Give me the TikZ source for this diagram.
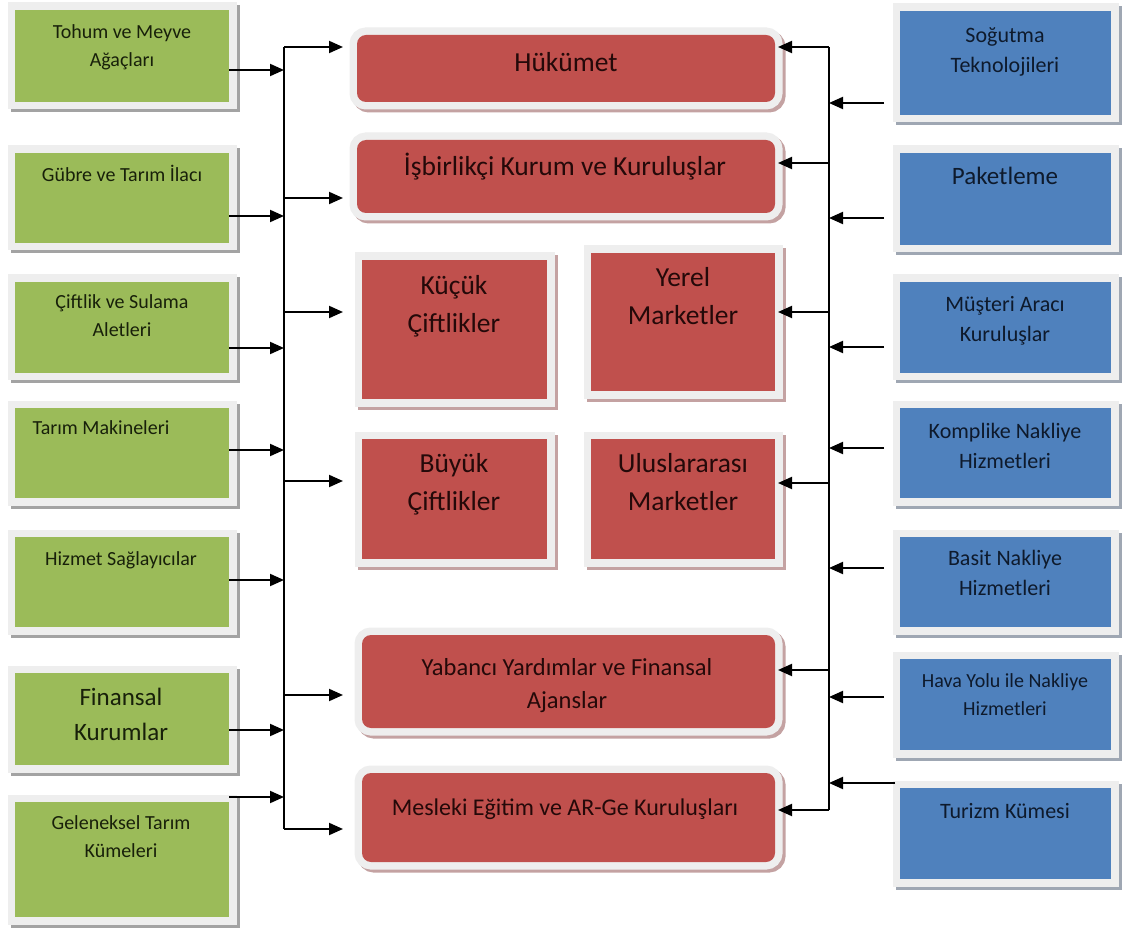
\documentclass[tikz,border=0pt]{standalone}
\usepackage{fontspec}
\setmainfont{Carlito}
\usetikzlibrary{arrows.meta,calc}

\definecolor{gfill}{HTML}{9BBB59}
\definecolor{rfill}{HTML}{C0504D}
\definecolor{bfill}{HTML}{4F81BD}
\definecolor{frame}{HTML}{EEEEEE}
\definecolor{gshadow}{HTML}{A3A3A3}
\definecolor{rshadow}{HTML}{C4A2A2}
\definecolor{bshadow}{HTML}{9FA7B3}
\definecolor{gtext}{HTML}{18200A}
\definecolor{rtext}{HTML}{240909}
\definecolor{btext}{HTML}{0E1A2C}

\tikzset{
  boxbase/.style={rectangle, inner sep=0pt, outer sep=0pt},
  framed/.style={
    preaction={draw=#1, line width=15pt, transform canvas={xshift=3pt,yshift=-3pt}},
    preaction={draw=frame, line width=15pt}},
  gbox/.style={boxbase, framed=gshadow, fill=gfill, minimum width=214pt},
  bbox/.style={boxbase, framed=bshadow, fill=bfill, minimum width=211pt},
  rbox/.style={boxbase, framed=rshadow, fill=rfill},
  rrbox/.style={rbox, rounded corners=9pt},
  % labels are placed by the baseline of their last line
  label/.style={inner sep=0pt, align=center, anchor=base},
  gtxt/.style={label, text=gtext, font=\fontsize{20pt}{28pt}\selectfont},
  btxt/.style={label, text=btext, font=\fontsize{22pt}{30pt}\selectfont},
  rtxt/.style={label, text=rtext, font=\fontsize{27.5pt}{38pt}\selectfont},
  bus/.style={line width=2pt},
  arr/.style={line width=2pt, -{Triangle[length=14pt,width=12pt]}},
}

\begin{document}
\begin{tikzpicture}[x=1pt, y=-1pt]
\useasboundingbox (0,0) rectangle (1125,933);
\fill[white] (0,0) rectangle (1125,933);

% suppliers on the left
\node[gbox, minimum height=92pt]  (g1) at (122,56)    {};
\node[gbox, minimum height=90pt]  (g2) at (122,198)   {};
\node[gbox, minimum height=91pt]  (g3) at (122,327.5) {};
\node[gbox, minimum height=90pt]  (g4) at (122,453)   {};
\node[gbox, minimum height=90pt]  (g5) at (122,582)   {};
\node[gbox, minimum height=92pt]  (g6) at (122,719)   {};
\node[gbox, minimum height=115pt] (g7) at (122,859.5) {};

\node[gtxt] (g1t) at (122,67)  {Tohum ve Meyve\\Ağaçları};
\node[gtxt] (g2t) at (122,182) {Gübre ve Tarım İlacı};
\node[gtxt] (g3t) at (122,337) {Çiftlik ve Sulama\\Aletleri};
\node[gtxt] (g4t) at (101,435) {Tarım Makineleri};
\node[gtxt] (g5t) at (121,565) {Hizmet Sağlayıcılar};
\node[gtxt, font=\fontsize{25pt}{35pt}\selectfont] (g6t) at (121,740) {Finansal\\Kurumlar};
\node[gtxt] (g7t) at (121,857) {Geleneksel Tarım\\Kümeleri};

% services on the right
\node[bbox, minimum height=104pt] (b1) at (1005.5,63)    {};
\node[bbox, minimum height=92pt]  (b2) at (1005.5,199)   {};
\node[bbox, minimum height=91pt]  (b3) at (1005.5,327.5) {};
\node[bbox, minimum height=90pt]  (b4) at (1005.5,453)   {};
\node[bbox, minimum height=90pt]  (b5) at (1005.5,582)   {};
\node[bbox, minimum height=91pt]  (b6) at (1005.5,704.5) {};
\node[bbox, minimum height=91pt]  (b7) at (1005.5,833.5) {};

\node[btxt] (b1t) at (1005,73)  {Soğutma\\Teknolojileri};
\node[btxt, font=\fontsize{25pt}{30pt}\selectfont] (b2t) at (1005,185) {Paketleme};
\node[btxt] (b3t) at (1005,342) {Müşteri Aracı\\Kuruluşlar};
\node[btxt] (b4t) at (1005,468) {Komplike Nakliye\\Hizmetleri};
\node[btxt] (b5t) at (1005,595) {Basit Nakliye\\Hizmetleri};
\node[btxt, font=\fontsize{20pt}{28pt}\selectfont] (b6t) at (1005,715) {Hava Yolu ile Nakliye\\Hizmetleri};
\node[btxt] (b7t) at (1005,818) {Turizm Kümesi};

% core actors in the middle
\node[rrbox, minimum width=418pt, minimum height=67pt]  (r1) at (566,68.5)  {};
\node[rrbox, minimum width=418pt, minimum height=73pt]  (r2) at (566,176.5) {};
\node[rbox,  minimum width=185pt, minimum height=139pt] (r3) at (454.5,329.5) {};
\node[rbox,  minimum width=184pt, minimum height=138pt] (r4) at (683,322)   {};
\node[rbox,  minimum width=185pt, minimum height=120pt] (r5) at (454.5,499) {};
\node[rbox,  minimum width=184pt, minimum height=120pt] (r6) at (683,499)   {};
\node[rrbox, minimum width=413pt, minimum height=93pt]  (r7) at (568.5,681.5) {};
\node[rrbox, minimum width=413pt, minimum height=89pt]  (r8) at (568.5,817.5) {};

\node[rtxt] (r1t) at (566,72)  {Hükümet};
\node[rtxt] (r2t) at (565,176) {İşbirlikçi Kurum ve Kuruluşlar};
\node[rtxt] (r3t) at (454,333) {Küçük\\Çiftlikler};
\node[rtxt] (r4t) at (683,325) {Yerel\\Marketler};
\node[rtxt] (r5t) at (454,510) {Büyük\\Çiftlikler};
\node[rtxt] (r6t) at (683,510) {Uluslararası\\Marketler};
\node[rtxt, font=\fontsize{24.5pt}{33pt}\selectfont] (r7t) at (567,708) {Yabancı Yardımlar ve Finansal\\Ajanslar};
\node[rtxt, font=\fontsize{24pt}{33pt}\selectfont] (r8t) at (565,815) {Mesleki Eğitim ve AR-Ge Kuruluşları};

% left bus: junctions for incoming and outgoing arrows
\coordinate (Lo1) at (284,47);
\coordinate (Lo2) at (284,198);
\coordinate (Lo3) at (284,312);
\coordinate (Lo4) at (284,481);
\coordinate (Lo5) at (284,695);
\coordinate (Lo6) at (284,829);
\coordinate (Li1) at (284,70);
\coordinate (Li2) at (284,216);
\coordinate (Li3) at (284,348);
\coordinate (Li4) at (284,450);
\coordinate (Li5) at (284,580);
\coordinate (Li6) at (284,730);
\coordinate (Li7) at (284,797);

\draw[bus] (Lo1) -- (Lo6);
\draw[arr, shorten >=14pt] (Lo1) -- (Lo1 -| r1.west);
\draw[arr, shorten >=14pt] (Lo2) -- (Lo2 -| r2.west);
\draw[arr, shorten >=19pt] (Lo3) -- (Lo3 -| r3.west);
\draw[arr, shorten >=19pt] (Lo4) -- (Lo4 -| r5.west);
\draw[arr, shorten >=19pt] (Lo5) -- (Lo5 -| r7.west);
\draw[arr, shorten >=19pt] (Lo6) -- (Lo6 -| r8.west);

\draw[arr] (g1.east |- Li1) -- (Li1);
\draw[arr] (g2.east |- Li2) -- (Li2);
\draw[arr] (g3.east |- Li3) -- (Li3);
\draw[arr] (g4.east |- Li4) -- (Li4);
\draw[arr] (g5.east |- Li5) -- (Li5);
\draw[arr] (g6.east |- Li6) -- (Li6);
\draw[arr] (g7.east |- Li7) -- (Li7);

% right bus
\coordinate (Ro1) at (829,47);
\coordinate (Ro2) at (829,163);
\coordinate (Ro3) at (829,312);
\coordinate (Ro4) at (829,483);
\coordinate (Ro5) at (829,670);
\coordinate (Ro6) at (829,810);
\coordinate (Ri1) at (829,103);
\coordinate (Ri2) at (829,218);
\coordinate (Ri3) at (829,347);
\coordinate (Ri4) at (829,448);
\coordinate (Ri5) at (829,568);
\coordinate (Ri6) at (829,697);
\coordinate (Ri7) at (829,783);

\draw[bus] (Ro1) -- (Ro6);
\draw[arr, shorten >=3pt] (Ro1) -- (Ro1 -| r1.east);
\draw[arr, shorten >=3pt] (Ro2) -- (Ro2 -| r2.east);
\draw[arr, shorten >=3pt] (Ro3) -- (Ro3 -| r4.east);
\draw[arr, shorten >=3pt] (Ro4) -- (Ro4 -| r6.east);
\draw[arr, shorten >=3pt] (Ro5) -- (Ro5 -| r7.east);
\draw[arr, shorten >=3pt] (Ro6) -- (Ro6 -| r8.east);

\draw[arr, shorten <=16pt] (b1.west |- Ri1) -- (Ri1);
\draw[arr, shorten <=16pt] (b2.west |- Ri2) -- (Ri2);
\draw[arr, shorten <=16pt] (b3.west |- Ri3) -- (Ri3);
\draw[arr, shorten <=16pt] (b4.west |- Ri4) -- (Ri4);
\draw[arr, shorten <=16pt] (b5.west |- Ri5) -- (Ri5);
\draw[arr, shorten <=16pt] (b6.west |- Ri6) -- (Ri6);
\draw[arr, shorten <=5pt]  (b7.west |- Ri7) -- (Ri7);
\end{tikzpicture}
\end{document}
